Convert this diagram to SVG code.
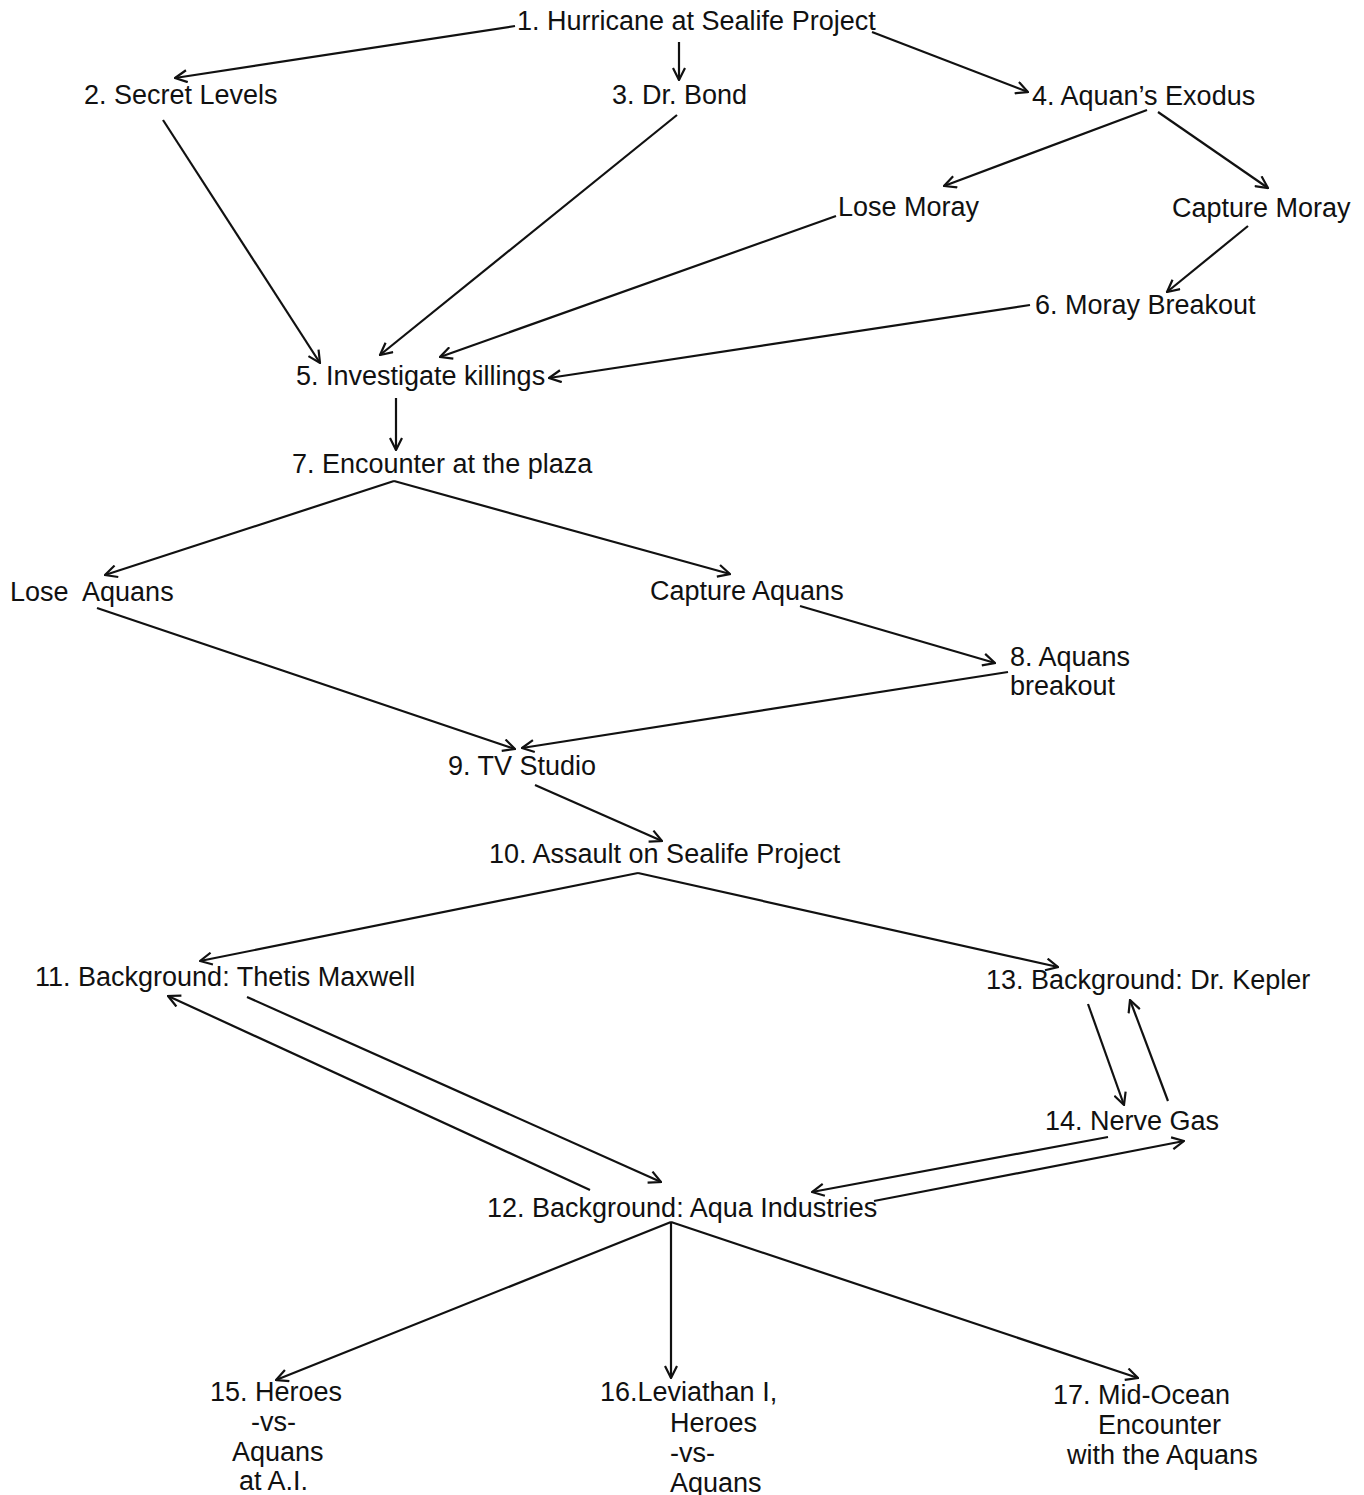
<svg xmlns="http://www.w3.org/2000/svg" width="1364" height="1495" viewBox="0 0 1364 1495">
<style>
text{font-family:"Liberation Sans",Arial,sans-serif;font-size:27px;fill:#111}
.e{stroke:#111;stroke-width:2.2;fill:none;marker-end:url(#ah)}
</style>
<defs>
<marker id="ah" viewBox="0 0 14 14" refX="13" refY="7" markerWidth="14" markerHeight="14" markerUnits="userSpaceOnUse" orient="auto">
<path d="M1,1 L13,7 L1,13" fill="none" stroke="#111" stroke-width="2.2"/>
</marker>
</defs>
<rect width="1364" height="1495" fill="#fff"/>
<g id="connectors">
<line class="e" x1="515" y1="26" x2="175" y2="78"/>
<line class="e" x1="679" y1="42" x2="679" y2="80"/>
<line class="e" x1="872" y1="32" x2="1028" y2="92"/>
<line class="e" x1="163" y1="120" x2="320" y2="363"/>
<line class="e" x1="677" y1="115" x2="380" y2="355"/>
<line class="e" x1="1147" y1="110" x2="944" y2="186"/>
<line class="e" x1="1158" y1="112" x2="1268" y2="188"/>
<line class="e" x1="1248" y1="226" x2="1167" y2="292"/>
<line class="e" x1="836" y1="216" x2="440" y2="357"/>
<line class="e" x1="1030" y1="305" x2="549" y2="378"/>
<line class="e" x1="396" y1="398" x2="396" y2="450"/>
<line class="e" x1="394" y1="481" x2="105" y2="575"/>
<line class="e" x1="394" y1="481" x2="730" y2="574"/>
<line class="e" x1="97" y1="608" x2="515" y2="749"/>
<line class="e" x1="800" y1="606" x2="995" y2="663"/>
<line class="e" x1="1008" y1="672" x2="522" y2="748"/>
<line class="e" x1="535" y1="785" x2="662" y2="841"/>
<line class="e" x1="638" y1="873" x2="200" y2="961"/>
<line class="e" x1="638" y1="873" x2="1058" y2="967"/>
<line class="e" x1="247" y1="997" x2="661" y2="1182"/>
<line class="e" x1="590" y1="1190" x2="168" y2="996"/>
<line class="e" x1="1088" y1="1004" x2="1124" y2="1105"/>
<line class="e" x1="1168" y1="1101" x2="1130" y2="1000"/>
<line class="e" x1="1108" y1="1137" x2="812" y2="1192"/>
<line class="e" x1="874" y1="1201" x2="1184" y2="1141"/>
<line class="e" x1="671" y1="1222" x2="276" y2="1380"/>
<line class="e" x1="671" y1="1222" x2="671" y2="1378"/>
<line class="e" x1="671" y1="1222" x2="1138" y2="1378"/>
</g>
<g id="n1"><text x="517" y="30">1. Hurricane at Sealife Project</text></g>
<g id="n2"><text x="84" y="104">2. Secret Levels</text></g>
<g id="n3"><text x="612" y="104">3. Dr. Bond</text></g>
<g id="n4"><text x="1032" y="105">4. Aquan’s Exodus</text></g>
<g id="nLoseMoray"><text x="838" y="216">Lose Moray</text></g>
<g id="nCaptureMoray"><text x="1172" y="217">Capture Moray</text></g>
<g id="n6"><text x="1035" y="314">6. Moray Breakout</text></g>
<g id="n5"><text x="296" y="385">5. Investigate killings</text></g>
<g id="n7"><text x="292" y="473">7. Encounter at the plaza</text></g>
<g id="nLoseAquans"><text x="10" y="601" xml:space="preserve">Lose  Aquans</text></g>
<g id="nCaptureAquans"><text x="650" y="600">Capture Aquans</text></g>
<g id="n8"><text x="1010" y="666">8. Aquans</text><text x="1010" y="695">breakout</text></g>
<g id="n9"><text x="448" y="775">9. TV Studio</text></g>
<g id="n10"><text x="489" y="863">10. Assault on Sealife Project</text></g>
<g id="n11"><text x="35" y="986">11. Background: Thetis Maxwell</text></g>
<g id="n13"><text x="986" y="989">13. Background: Dr. Kepler</text></g>
<g id="n14"><text x="1045" y="1130">14. Nerve Gas</text></g>
<g id="n12"><text x="487" y="1217">12. Background: Aqua Industries</text></g>
<g id="n15"><text x="210" y="1401">15. Heroes</text><text x="251" y="1431">-vs-</text><text x="232" y="1461">Aquans</text><text x="239" y="1490">at A.I.</text></g>
<g id="n16"><text x="600" y="1401">16.Leviathan I,</text><text x="670" y="1432">Heroes</text><text x="670" y="1462">-vs-</text><text x="670" y="1492">Aquans</text></g>
<g id="n17"><text x="1053" y="1404">17. Mid-Ocean</text><text x="1098" y="1434">Encounter</text><text x="1067" y="1464">with the Aquans</text></g>
</svg>
